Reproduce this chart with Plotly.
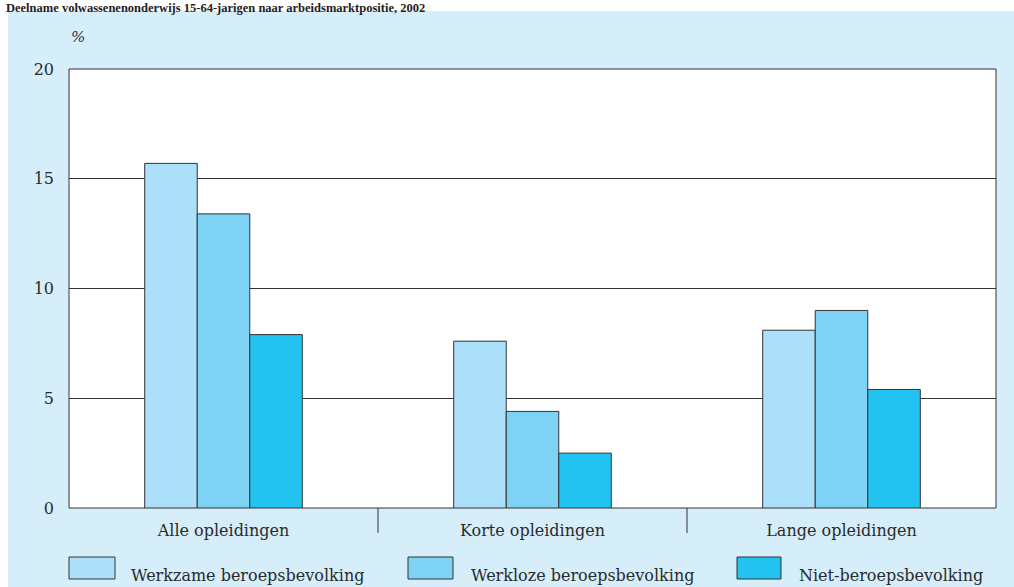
import plotly.graph_objects as go

categories = ["Alle opleidingen", "Korte opleidingen", "Lange opleidingen"]
series_names = ["Werkzame beroepsbevolking", "Werkloze beroepsbevolking", "Niet-beroepsbevolking"]
werkzame = [15.7, 7.6, 8.1]
werkloze = [13.4, 4.4, 9.0]
niet = [7.9, 2.5, 5.4]
y_ticks = [0, 5, 10, 15, 20]
title_text = "Deelname volwassenenonderwijs 15-64-jarigen naar arbeidsmarktpositie, 2002"

colors = ["#ACDFF9", "#7ED3F4", "#22C3F0"]
FONT = "DejaVu Serif"
TFONT = "Liberation Serif"
W, H = 1014, 587
ml, mr, mt, mb = 69, 18, 69, 79
pw, ph = W - ml - mr, H - mt - mb

def px(x):
    return (x - ml) / pw

def py(y):
    return (H - mb - y) / ph

fig = go.Figure()
for name, vals, c in zip(series_names, [werkzame, werkloze, niet], colors):
    fig.add_trace(go.Bar(
        x=list(range(len(categories))), y=vals, name=name,
        marker=dict(color=c, line=dict(color="#333333", width=1)),
        showlegend=False,
    ))

shapes = []
# white strips (outside the light blue panel)
shapes.append(dict(type="rect", xref="paper", yref="paper", x0=px(-5), x1=px(1020), y0=py(11), y1=py(-5),
                   fillcolor="white", line=dict(width=0), layer="below"))
shapes.append(dict(type="rect", xref="paper", yref="paper", x0=px(-5), x1=px(8), y0=py(590), y1=py(-5),
                   fillcolor="white", line=dict(width=0), layer="below"))
# white plot area
shapes.append(dict(type="rect", xref="paper", yref="paper", x0=0, x1=1, y0=0, y1=1,
                   fillcolor="white", line=dict(color="#333333", width=1), layer="below"))
# category separators
for xv in [0.5, 1.5]:
    shapes.append(dict(type="line", xref="x", yref="paper", x0=xv, x1=xv, y0=0, y1=py(533),
                       line=dict(color="#333333", width=1)))

annotations = []
annotations.append(dict(text="<b>" + title_text + "</b>", xref="paper", yref="paper",
                        x=px(5), y=py(0), xanchor="left", yanchor="top", showarrow=False,
                        borderpad=0, font=dict(family=TFONT, size=12.5, color="#222222")))
annotations.append(dict(text="<i>%</i>", xref="paper", yref="paper", x=px(69), y=py(37),
                        xanchor="left", yanchor="middle", showarrow=False,
                        font=dict(family=FONT, size=15, color="#333333")))
# legend
legend_boxes = [(69, 115, 129), (408, 453, 469), (737, 781, 797)]
for (bx0, bx1, tx), name, c in zip(legend_boxes, series_names, colors):
    shapes.append(dict(type="rect", xref="paper", yref="paper", x0=px(bx0), x1=px(bx1), y0=py(579), y1=py(557),
                       fillcolor=c, line=dict(color="#333333", width=1)))
    annotations.append(dict(text=name, xref="paper", yref="paper", x=px(tx), y=py(575),
                            xanchor="left", yanchor="middle", showarrow=False,
                            font=dict(family=FONT, size=16, color="#2a2a2a")))

fig.update_layout(
    width=W, height=H,
    margin=dict(l=ml, r=mr, t=mt, b=mb),
    paper_bgcolor="#D6EEFA", plot_bgcolor="rgba(0,0,0,0)",
    barmode="group", bargap=0.49, bargroupgap=0,
    font=dict(family=FONT, size=16, color="#2a2a2a"),
    xaxis=dict(range=[-0.5, 2.5], tickvals=list(range(len(categories))), ticktext=categories,
               showgrid=False, ticks="", zeroline=False, showline=False, ticklabelstandoff=11),
    yaxis=dict(range=[0, 20], tickvals=y_ticks, showgrid=True, gridcolor="#333333", gridwidth=1,
               ticks="", zeroline=False, showline=False, ticklabelstandoff=14),
    shapes=shapes, annotations=annotations,
)
fig.write_html("out.html", config={"displayModeBar": False},
               post_script="document.body.style.margin='0';document.body.style.overflow='hidden';")
